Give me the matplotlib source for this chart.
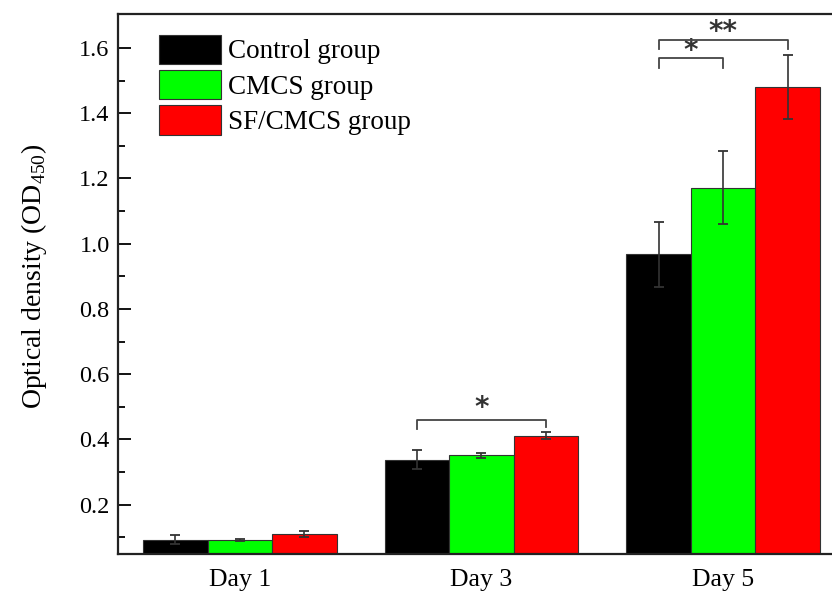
import numpy as np
import matplotlib
matplotlib.use("Agg")
import matplotlib.pyplot as plt

plt.rcParams['font.family'] = ['Liberation Serif', 'DejaVu Serif']
plt.rcParams['mathtext.fontset'] = 'custom'
plt.rcParams['mathtext.rm'] = 'Liberation Serif'

# Datos leidos por dia
days = ["Day 1", "Day 3", "Day 5"]
groups = ["Control group", "CMCS group", "SF/CMCS group"]
colors = ["#000000", "#00ff00", "#ff0000"]

control = [0.093, 0.338, 0.967]
cmcs = [0.091, 0.351, 1.171]
sfcmcs = [0.110, 0.412, 1.480]

control_err = [0.013, 0.029, 0.099]
cmcs_err = [0.003, 0.009, 0.112]
sfcmcs_err = [0.009, 0.010, 0.098]

fig = plt.figure(figsize=(8.32, 5.93), dpi=100)
ax = fig.add_axes([118 / 832, 39 / 593, 714 / 832, 540 / 593])

x = np.arange(len(days))
w = 0.267
series = [control, cmcs, sfcmcs]
errs = [control_err, cmcs_err, sfcmcs_err]

for i in range(3):
    ax.bar(x + (i - 1) * w, series[i], w, color=colors[i], edgecolor="#333333",
           linewidth=0.8, label=groups[i], zorder=2)
    ax.errorbar(x + (i - 1) * w, series[i], yerr=errs[i], fmt="none",
                ecolor="#333333", elinewidth=1.2, capsize=3.5, capthick=1.3, zorder=3)


# Corchetes de significancia
def corchete(x1, x2, y, y1, y2, texto, tx, ty):
    ax.plot([x1, x1, x2, x2], [y1, y, y, y2], color="#444444", lw=1.3, zorder=4)
    ax.text(tx, ty, texto, ha="center", va="center", fontsize=20, color="#333333",
            family="DejaVu Sans", fontweight="bold")


corchete(1 - w, 1 + w, 0.461, 0.431, 0.438, "*", 1.0, 0.495)
corchete(2 - w, 2, 1.568, 1.537, 1.540, "*", 2 - w / 2, 1.590)
corchete(2 - w, 2 + w, 1.624, 1.597, 1.597, "**", 2.0, 1.648)

ax.set_xlim(-0.504, 2.451)
ax.set_ylim(0.049, 1.704)
ax.set_xticks(x)
ax.set_xticklabels(days, fontsize=18.5)
ax.set_yticks([0.2, 0.4, 0.6, 0.8, 1.0, 1.2, 1.4, 1.6])
ax.set_yticks(np.arange(0.1, 1.7, 0.2), minor=True)
ax.tick_params(axis="y", which="major", direction="in", length=9, width=1.3, labelsize=17.5, pad=6)
ax.tick_params(axis="y", which="minor", direction="in", length=5, width=1.3)
ax.tick_params(axis="x", length=0, pad=11)

ax.spines["right"].set_visible(False)
for s in ["left", "top", "bottom"]:
    ax.spines[s].set_linewidth(1.6)
    ax.spines[s].set_color("#222222")

ax.set_ylabel("Optical density (OD$_{450}$)", fontsize=20)
ax.yaxis.set_label_coords(-0.097, 0.515)

ax.legend(loc="upper left", bbox_to_anchor=(0.057, 0.962), frameon=False,
          fontsize=19.5, handlelength=2.3, handleheight=1.3, handletextpad=0.26,
          labelspacing=0.2, borderpad=0, borderaxespad=0)

fig.savefig("out.png", dpi=100)
